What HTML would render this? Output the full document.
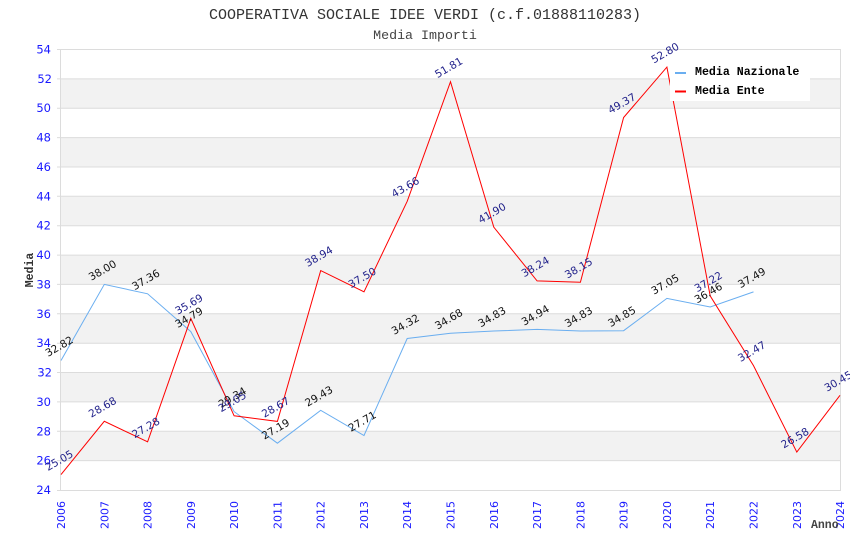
<!DOCTYPE html>
<html><head><meta charset="utf-8"><style>
html,body{margin:0;padding:0;background:#fff;}
svg{display:block;}
.yt{font-family:"DejaVu Sans","Liberation Sans",sans-serif;font-size:11.5px;fill:#1a1aff;text-anchor:end;}
.xt{font-family:"DejaVu Sans","Liberation Sans",sans-serif;font-size:11px;fill:#1a1aff;text-anchor:end;}
.ln{font-family:"DejaVu Sans","Liberation Sans",sans-serif;font-size:10.5px;fill:#111;text-anchor:middle;}
.le{font-family:"DejaVu Sans","Liberation Sans",sans-serif;font-size:10.5px;fill:#22228b;text-anchor:middle;}
.mono{font-family:"Liberation Mono","DejaVu Sans Mono",monospace;}
</style></head><body>
<svg width="850" height="550" viewBox="0 0 850 550" xmlns="http://www.w3.org/2000/svg">
<rect width="850" height="550" fill="#fff"/>
<!-- bands -->
<g fill="#f2f2f2">
<rect x="61" y="78.9" width="779" height="29.3"/>
<rect x="61" y="137.6" width="779" height="29.4"/>
<rect x="61" y="196.3" width="779" height="29.4"/>
<rect x="61" y="255.1" width="779" height="29.3"/>
<rect x="61" y="313.8" width="779" height="29.4"/>
<rect x="61" y="372.5" width="779" height="29.4"/>
<rect x="61" y="431.3" width="779" height="29.3"/>
</g>
<g stroke="#dcdcdc" stroke-width="1">
<line x1="57" x2="840" y1="49.5" y2="49.5"/>
<line x1="57" x2="840" y1="78.9" y2="78.9"/>
<line x1="57" x2="840" y1="108.2" y2="108.2"/>
<line x1="57" x2="840" y1="137.6" y2="137.6"/>
<line x1="57" x2="840" y1="167" y2="167"/>
<line x1="57" x2="840" y1="196.3" y2="196.3"/>
<line x1="57" x2="840" y1="225.7" y2="225.7"/>
<line x1="57" x2="840" y1="255.1" y2="255.1"/>
<line x1="57" x2="840" y1="284.4" y2="284.4"/>
<line x1="57" x2="840" y1="313.8" y2="313.8"/>
<line x1="57" x2="840" y1="343.2" y2="343.2"/>
<line x1="57" x2="840" y1="372.5" y2="372.5"/>
<line x1="57" x2="840" y1="401.9" y2="401.9"/>
<line x1="57" x2="840" y1="431.3" y2="431.3"/>
<line x1="57" x2="840" y1="460.6" y2="460.6"/>
<line x1="57" x2="840.5" y1="490.5" y2="490.5"/>
<line x1="60.5" x2="60.5" y1="49" y2="491"/>
<line x1="840.5" x2="840.5" y1="49" y2="491"/>
</g>
<!-- y ticks -->
<g class="yt">
<text x="51" y="53.5">54</text>
<text x="52" y="83">52</text>
<text x="51" y="112.2">50</text>
<text x="51" y="141.6">48</text>
<text x="51" y="171">46</text>
<text x="51" y="200.3">44</text>
<text x="51" y="229.7">42</text>
<text x="51" y="259.1">40</text>
<text x="51" y="288.4">38</text>
<text x="51" y="317.8">36</text>
<text x="51" y="347.2">34</text>
<text x="52" y="376.5">32</text>
<text x="51" y="405.9">30</text>
<text x="51" y="435.3">28</text>
<text x="51" y="464.6">26</text>
<text x="51" y="494">24</text>
</g>
<!-- x ticks -->
<g class="xt">
<text transform="translate(65,501) rotate(-90)">2006</text>
<text transform="translate(108.3,501) rotate(-90)">2007</text>
<text transform="translate(151.6,501) rotate(-90)">2008</text>
<text transform="translate(194.8,501) rotate(-90)">2009</text>
<text transform="translate(238.1,501) rotate(-90)">2010</text>
<text transform="translate(281.4,501) rotate(-90)">2011</text>
<text transform="translate(324.7,501) rotate(-90)">2012</text>
<text transform="translate(368,501) rotate(-90)">2013</text>
<text transform="translate(411.2,501) rotate(-90)">2014</text>
<text transform="translate(454.5,501) rotate(-90)">2015</text>
<text transform="translate(497.8,501) rotate(-90)">2016</text>
<text transform="translate(541.1,501) rotate(-90)">2017</text>
<text transform="translate(584.4,501) rotate(-90)">2018</text>
<text transform="translate(627.6,501) rotate(-90)">2019</text>
<text transform="translate(670.9,501) rotate(-90)">2020</text>
<text transform="translate(714.2,501) rotate(-90)">2021</text>
<text transform="translate(757.5,501) rotate(-90)">2022</text>
<text transform="translate(800.8,501) rotate(-90)">2023</text>
<text transform="translate(844,501) rotate(-90)">2024</text>
</g>
<!-- series -->
<polyline fill="none" stroke="#6aaef0" stroke-width="1" points="61,360.5 104.3,284.4 147.6,293.8 190.8,331.6 234.1,411.6 277.4,443.2 320.7,410.3 364,435.5 407.2,338.5 450.5,333.2 493.8,331 537.1,329.4 580.4,331 623.6,330.7 666.9,298.4 710.2,307 753.5,291.9"/>
<polyline fill="none" stroke="#ff0000" stroke-width="1" points="61,474.6 104.3,421.3 147.6,441.8 190.8,318.4 234.1,415.8 277.4,421.4 320.7,270.6 364,291.8 407.2,201.3 450.5,81.7 493.8,227.2 537.1,280.9 580.4,282.2 623.6,117.5 666.9,67.1 710.2,295.9 753.5,365.6 796.8,452.1 840,395.3"/>
<!-- naz labels -->
<g class="ln">
<text transform="translate(61,349.5) rotate(-30)">32.82</text>
<text transform="translate(104.3,273.4) rotate(-30)">38.00</text>
<text transform="translate(147.6,282.8) rotate(-30)">37.36</text>
<text transform="translate(190.8,320.6) rotate(-30)">34.79</text>
<text transform="translate(234.1,400.6) rotate(-30)">29.34</text>
<text transform="translate(277.4,432.2) rotate(-30)">27.19</text>
<text transform="translate(320.7,399.3) rotate(-30)">29.43</text>
<text transform="translate(364,424.5) rotate(-30)">27.71</text>
<text transform="translate(407.2,327.5) rotate(-30)">34.32</text>
<text transform="translate(450.5,322.2) rotate(-30)">34.68</text>
<text transform="translate(493.8,320) rotate(-30)">34.83</text>
<text transform="translate(537.1,318.4) rotate(-30)">34.94</text>
<text transform="translate(580.4,320) rotate(-30)">34.83</text>
<text transform="translate(623.6,319.7) rotate(-30)">34.85</text>
<text transform="translate(666.9,287.4) rotate(-30)">37.05</text>
<text transform="translate(710.2,296) rotate(-30)">36.46</text>
<text transform="translate(753.5,280.9) rotate(-30)">37.49</text>
</g>
<g class="le">
<text transform="translate(61,463.6) rotate(-30)">25.05</text>
<text transform="translate(104.3,410.3) rotate(-30)">28.68</text>
<text transform="translate(147.6,430.8) rotate(-30)">27.28</text>
<text transform="translate(190.8,307.4) rotate(-30)">35.69</text>
<text transform="translate(234.1,404.8) rotate(-30)">29.05</text>
<text transform="translate(277.4,410.4) rotate(-30)">28.67</text>
<text transform="translate(320.7,259.6) rotate(-30)">38.94</text>
<text transform="translate(364,280.8) rotate(-30)">37.50</text>
<text transform="translate(407.2,190.3) rotate(-30)">43.66</text>
<text transform="translate(450.5,70.7) rotate(-30)">51.81</text>
<text transform="translate(493.8,216.2) rotate(-30)">41.90</text>
<text transform="translate(537.1,269.9) rotate(-30)">38.24</text>
<text transform="translate(580.4,271.2) rotate(-30)">38.15</text>
<text transform="translate(623.6,106.5) rotate(-30)">49.37</text>
<text transform="translate(666.9,56.1) rotate(-30)">52.80</text>
<text transform="translate(710.2,284.9) rotate(-30)">37.22</text>
<text transform="translate(753.5,354.6) rotate(-30)">32.47</text>
<text transform="translate(796.8,441.1) rotate(-30)">26.58</text>
<text transform="translate(840,384.3) rotate(-30)">30.45</text>
</g>
<!-- legend -->
<rect x="670" y="60" width="140" height="41" fill="#fff"/>
<line x1="675" x2="686" y1="73" y2="73" stroke="#6aaef0" stroke-width="2"/>
<line x1="675" x2="686" y1="91.5" y2="91.5" stroke="#ff0000" stroke-width="2"/>
<text class="mono" x="695" y="75" font-size="11.6" font-weight="bold" fill="#000">Media Nazionale</text>
<text class="mono" x="695" y="94" font-size="11.6" font-weight="bold" fill="#000">Media Ente</text>
<!-- titles -->
<text class="mono" x="425" y="19" font-size="15" fill="#333" text-anchor="middle">COOPERATIVA SOCIALE IDEE VERDI (c.f.01888110283)</text>
<text class="mono" x="425" y="39" font-size="13.3" fill="#444" text-anchor="middle">Media Importi</text>
<text class="mono" transform="translate(33,270) rotate(-90)" font-size="11.5" font-weight="bold" fill="#333" text-anchor="middle">Media</text>
<text class="mono" x="811" y="528" font-size="11.5" font-weight="bold" fill="#444">Anno</text>
</svg>
</body></html>
